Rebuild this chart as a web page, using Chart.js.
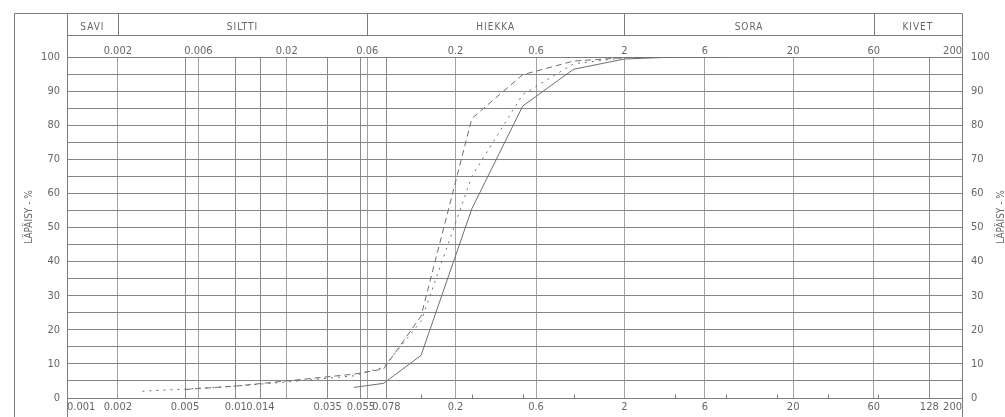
<!DOCTYPE html>
<html><head><meta charset="utf-8">
<script src="https://cdn.jsdelivr.net/npm/chart.js@4.4.1/dist/chart.umd.min.js"></script>
<style>html,body{margin:0;padding:0;background:#fff;overflow:hidden}</style>
</head><body>
<canvas id="c" width="1005" height="417"></canvas>
<script>
// ---- data ----
const soilClasses = ['SAVI', 'SILTTI', 'HIEKKA', 'SORA', 'KIVET'];
const classBounds = [0.001, 0.002, 0.06, 2, 60, 200];
const topTickValues = [0.001, 0.002, 0.006, 0.02, 0.06, 0.2, 0.6, 2, 6, 20, 60, 200];
const topTickLabels = ['', '0.002', '0.006', '0.02', '0.06', '0.2', '0.6', '2', '6', '20', '60', '200'];
const bottomTickValues = [0.001, 0.002, 0.005, 0.01, 0.014, 0.035, 0.055, 0.078, 0.2, 0.6, 2, 6, 20, 60, 128, 200];
const bottomTickLabels = ['0.001', '0.002', '0.005', '0.01', '0.014', '0.035', '0.055', '0.078', '0.2', '0.6', '2', '6', '20', '60', '128', '200'];
const minorTickValues = [0.125, 0.25, 0.5, 1, 4, 8, 16, 32, 64];
const axisTitle = 'LÄPÄISY - %';

const sizesSolid = [0.05, 0.075, 0.125, 0.25, 0.5, 1, 2, 4];
const passSolid  = [3.1, 4.3, 12.5, 55.5, 85.6, 96.4, 99.4, 100];
const sizesDashed = [0.005, 0.01, 0.02, 0.05, 0.075, 0.125, 0.25, 0.5, 1, 2, 4, 8];
const passDashed  = [2.5, 3.5, 5.0, 7.0, 8.5, 24, 82, 94.8, 98.8, 99.8, 100, 100];
const sizesDotted = [0.0028, 0.005, 0.01, 0.02, 0.05, 0.075, 0.125, 0.25, 0.5, 1, 2, 4, 8];
const passDotted  = [2.0, 2.6, 3.5, 4.7, 6.5, 9.0, 22.5, 65, 89, 98, 99.8, 100, 100];

// ---- style ----
const FONT = "'DejaVu Sans Condensed', 'DejaVu Sans', sans-serif";
const TXT = '#666666';
const LINE = '#7c7c7c';
const CURVE = '#6e6e6e';

function pts(xs, ys) { return xs.map((x, i) => ({x: x, y: ys[i]})); }

const framePlugin = {
  id: 'frame',
  afterDraw(chart) {
    const ctx = chart.ctx, xs = chart.scales.x, a = chart.chartArea;
    const H = chart.height;
    const px = v => Math.round(v) + 0.5;
    const L = px(a.left), R = px(a.right), B = px(a.bottom);
    const outerL = 14.5, headTop = px(a.top - 44), headMid = px(a.top - 22);
    ctx.save();
    ctx.strokeStyle = LINE; ctx.lineWidth = 1;
    ctx.beginPath();
    ctx.moveTo(outerL, headTop); ctx.lineTo(R, headTop);
    ctx.moveTo(outerL, headTop); ctx.lineTo(outerL, H);
    ctx.moveTo(L, headTop); ctx.lineTo(L, H);
    ctx.moveTo(R, headTop); ctx.lineTo(R, H);
    ctx.moveTo(L, headMid); ctx.lineTo(R, headMid);
    for (let i = 1; i < classBounds.length - 1; i++) {
      const x = px(xs.getPixelForValue(classBounds[i]));
      ctx.moveTo(x, headTop); ctx.lineTo(x, headMid);
    }
    minorTickValues.forEach(v => {
      const x = px(xs.getPixelForValue(v));
      ctx.moveTo(x, B); ctx.lineTo(x, B - 4);
    });
    ctx.stroke();
    ctx.fillStyle = TXT;
    ctx.font = '10px ' + FONT;
    ctx.textAlign = 'center'; ctx.textBaseline = 'middle';
    if ('letterSpacing' in ctx) ctx.letterSpacing = '1px';
    for (let i = 0; i < soilClasses.length; i++) {
      const x0 = xs.getPixelForValue(classBounds[i]);
      const x1 = xs.getPixelForValue(classBounds[i + 1]);
      ctx.fillText(soilClasses[i], (x0 + x1) / 2, (headTop + headMid) / 2 + 2.5);
    }
    if ('letterSpacing' in ctx) ctx.letterSpacing = '0px';
    ctx.font = '10px ' + FONT;
    [29, 1001].forEach(x => {
      ctx.save();
      ctx.translate(x, 217);
      ctx.rotate(-Math.PI / 2);
      ctx.fillText(axisTitle, 0, 0);
      ctx.restore();
    });
    ctx.restore();
  }
};

const tickFont = {family: FONT, size: 11};

new Chart(document.getElementById('c'), {
  type: 'line',
  data: {
    datasets: [
      {data: pts(sizesSolid, passSolid), borderColor: CURVE, borderWidth: 1, pointRadius: 0, tension: 0, fill: false},
      {data: pts(sizesDashed, passDashed), borderColor: CURVE, borderWidth: 1, borderDash: [6, 4], pointRadius: 0, tension: 0, fill: false},
      {data: pts(sizesDotted, passDotted), borderColor: CURVE, borderWidth: 1, borderDash: [2, 5], pointRadius: 0, tension: 0, fill: false}
    ]
  },
  options: {
    responsive: false,
    animation: false,
    devicePixelRatio: 1,
    layout: {padding: 0},
    plugins: {legend: {display: false}, tooltip: {enabled: false}},
    scales: {
      x: {
        type: 'logarithmic', position: 'bottom', min: 0.001, max: 200,
        afterBuildTicks: s => { s.ticks = bottomTickValues.map(v => ({value: v})); },
        afterFit: s => { s.height = 19; },
        ticks: {autoSkip: false, maxRotation: 0, minRotation: 0, align: 'inner', padding: 3,
                color: TXT, font: tickFont, callback: (v, i) => bottomTickLabels[i]},
        grid: {color: '#8a8a8a', drawTicks: false, lineWidth: 1},
        border: {display: true, color: LINE}
      },
      x2: {
        type: 'logarithmic', position: 'top', min: 0.001, max: 200,
        afterBuildTicks: s => { s.ticks = topTickValues.map(v => ({value: v})); },
        afterFit: s => { s.height = 57; },
        ticks: {autoSkip: false, maxRotation: 0, minRotation: 0, align: 'inner', padding: -1,
                color: TXT, font: tickFont, callback: (v, i) => topTickLabels[i]},
        grid: {color: '#a3a3a3', drawTicks: false, lineWidth: 1},
        border: {display: true, color: LINE}
      },
      y: {
        type: 'linear', position: 'left', min: 0, max: 100,
        afterFit: s => { s.width = 67; },
        ticks: {stepSize: 5, padding: 7, color: TXT, font: tickFont,
                callback: v => (v % 10 === 0 ? String(v) : '')},
        grid: {color: '#858585', drawTicks: false, lineWidth: 1},
        border: {display: true, color: LINE}
      },
      y2: {
        type: 'linear', position: 'right', min: 0, max: 100,
        afterFit: s => { s.width = 43; },
        ticks: {stepSize: 5, padding: 9, color: TXT, font: tickFont,
                callback: v => (v % 10 === 0 ? String(v) : '')},
        grid: {display: false, drawTicks: false},
        border: {display: true, color: LINE}
      }
    }
  },
  plugins: [framePlugin]
});
</script>
</body></html>
